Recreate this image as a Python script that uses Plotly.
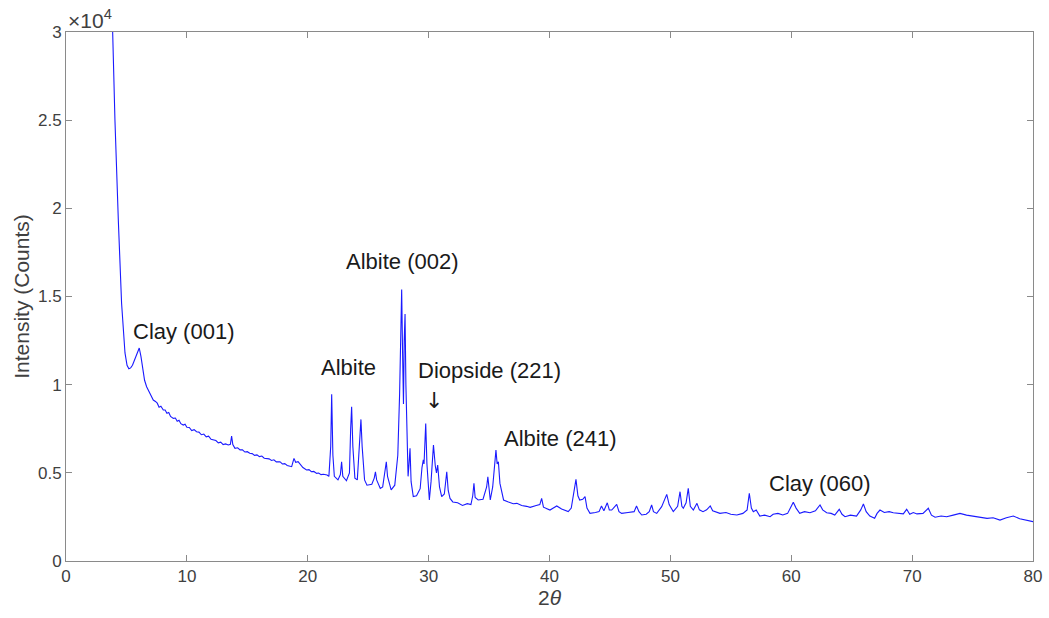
import plotly.graph_objects as go

# X-ray diffraction pattern: diffraction angle (degrees 2-theta) and intensity (counts)
two_theta = [
    3.86, 4.05, 4.33, 4.6, 4.88, 5.05, 5.2, 5.35, 5.5, 5.7, 5.9, 6.06, 6.2, 6.35, 6.5, 6.67, 6.85,
    7.0, 7.22, 7.4, 7.55, 7.7, 7.85, 8.05, 8.2, 8.35, 8.5, 8.65, 8.88, 9.05, 9.2, 9.35, 9.5, 9.7,
    9.85, 10.0, 10.2, 10.4, 10.6, 10.8, 11.0, 11.2, 11.4, 11.6, 11.8, 12.0, 12.19, 12.4, 12.6, 12.8,
    13.0, 13.2, 13.43, 13.6, 13.7, 13.8, 13.98, 14.2, 14.4, 14.6, 14.8, 15.0, 15.2, 15.4, 15.6, 15.8,
    16.0, 16.2, 16.4, 16.6, 16.8, 17.0, 17.2, 17.4, 17.7, 17.9, 18.1, 18.3, 18.5, 18.67, 18.86, 19.0,
    19.2, 19.4, 19.6, 19.9, 20.1, 20.3, 20.5, 20.74, 20.9, 21.1, 21.3, 21.6,
    21.75, 21.9, 21.98, 22.08, 22.2, 22.5, 22.7, 22.8, 22.9, 23.2, 23.45, 23.55, 23.63, 23.73, 23.9,
    24.1, 24.28, 24.4, 24.5, 24.7, 24.9, 25.3, 25.5, 25.6, 25.7, 26.0, 26.2, 26.35, 26.5, 26.6, 26.9,
    27.2, 27.45, 27.6, 27.7, 27.77, 27.84, 27.92, 27.98, 28.05, 28.12, 28.2, 28.3, 28.38, 28.46, 28.55,
    28.73, 29.0, 29.3, 29.45, 29.56, 29.62, 29.76, 29.86, 30.06, 30.2, 30.4, 30.55, 30.65, 30.75, 30.9,
    31.08, 31.3, 31.5, 31.62, 31.77, 32.0, 32.4, 32.8, 33.2, 33.5, 33.65, 33.75, 33.85, 34.1, 34.5,
    34.8, 34.9, 35.0, 35.1, 35.3, 35.5, 35.57, 35.67, 35.77, 35.9, 36.2, 36.6, 37.0, 37.3, 37.7, 38.1,
    38.4, 38.9, 39.2, 39.35, 39.5, 40.04, 40.3, 40.6, 41.0, 41.55, 41.8, 42.0, 42.19, 42.35, 42.5,
    42.75, 42.94, 43.1, 43.35, 43.8, 44.1, 44.3, 44.5, 44.78, 44.95, 45.15, 45.56, 45.75, 45.97, 46.5,
    47.0, 47.2, 47.4, 47.63, 48.0, 48.25, 48.45, 48.6, 48.87, 49.28, 49.5, 49.7, 49.9, 50.24, 50.6,
    50.8, 50.95, 51.07, 51.3, 51.48, 51.65, 51.9, 52.2, 52.4, 52.7, 53.0, 53.3, 53.5, 54.1, 54.6,
    55.0, 55.5, 56.0, 56.35, 56.53, 56.7, 56.86, 57.1, 57.4, 57.8, 58.25, 58.5, 58.9, 59.3, 59.7,
    59.95, 60.17, 60.4, 60.7, 61.1, 61.55, 62.0, 62.38, 62.6, 62.93, 63.3, 63.6, 63.97, 64.2, 64.45,
    64.9, 65.4, 65.75, 65.97, 66.2, 66.5, 66.9, 67.1, 67.34, 67.7, 68.1, 68.44, 68.8, 69.27, 69.55,
    69.8, 70.1, 70.4, 70.9, 71.34, 71.6, 71.9, 72.4, 72.86, 73.4, 73.96, 74.5, 75.06, 75.6, 76.2,
    76.7, 77.27, 77.8, 78.37, 78.9, 79.5, 80.0,
]
counts = [
    30000, 25000, 19300, 14600, 11800, 11100, 10900, 10950, 11100, 11450, 11850, 12080, 11600, 10800, 10250, 9880, 9600,
    9400, 9130, 9050, 8950, 8720, 8780, 8560, 8560, 8380, 8420, 8200, 8090, 8110, 7920, 7980, 7790, 7710,
    7760, 7580, 7570, 7400, 7450, 7330, 7310, 7160, 7200, 7040, 7080, 6900, 6860, 6830, 6700, 6740,
    6600, 6640, 6580, 6620, 7090, 6600, 6390, 6420, 6300, 6310, 6180, 6200, 6110, 6090, 5990, 6020,
    5920, 5950, 5830, 5820, 5790, 5700, 5740, 5620, 5630, 5500, 5520, 5420, 5380, 5350, 5820, 5600,
    5630, 5450, 5300, 5160, 5180, 5060, 5080, 4970, 4990, 4900, 4920, 4880,
    4800, 6500, 9450, 6000, 4800, 4600, 4900, 5630, 4800, 4550, 5000, 7500, 8750, 6500, 4700,
    4600, 6500, 8030, 6500, 4600, 4300, 4350, 4700, 5060, 4600, 4120, 4200, 4900, 5630, 4800, 4030,
    4300, 6000, 9500, 13000, 15400, 12000, 8900, 12500, 14000, 10000, 6500, 4800, 5500, 6390, 4500,
    3650, 3700, 4100, 5300, 5730, 5500, 7800, 5500, 3460, 4500, 6580, 5400, 5000, 5440, 4200,
    3650, 3800, 5060, 4000, 3550, 3350, 3300, 3150, 3250, 3200, 3700, 4400, 3600, 3460, 3500,
    4200, 4780, 3900, 3460, 4200, 6000, 6290, 5500, 5630, 4400, 3460, 3350, 3250, 3270, 3150, 3100,
    3040, 3150, 3200, 3550, 3050, 2890, 3000, 3120, 2950, 2800, 3000, 3800, 4630, 3700, 3460,
    3500, 3650, 3000, 2700, 2750, 2800, 3120, 2850, 3300, 2900, 2890, 3210, 2800, 2700, 2750,
    2800, 3120, 2800, 2610, 2650, 2800, 3175, 2800, 2700, 3080, 3400, 3780, 3200, 2800, 3100,
    3930, 3100, 2990, 3300, 4120, 3100, 2890, 3270, 2900, 2800, 2900, 3120, 2850, 2700, 2750,
    2650, 2610, 2700, 2900, 3840, 3000, 2800, 2890, 2550, 2600, 2510, 2650, 2700, 2610, 2700,
    3050, 3330, 3000, 2700, 2800, 2740, 2850, 3175, 2900, 2740, 2700, 2610, 2930, 2650, 2510,
    2600, 2550, 2900, 3230, 2800, 2550, 2420, 2700, 2890, 2750, 2800, 2740, 2700, 2670, 2930,
    2650, 2750, 2670, 2700, 2990, 2600, 2480, 2550, 2510, 2600, 2700, 2600, 2550, 2500, 2420,
    2450, 2320, 2450, 2550, 2400, 2320, 2230,
]

# Axis ticks (intensity shown in units of 10^4 counts)
x_ticks = [0, 10, 20, 30, 40, 50, 60, 70, 80]
y_ticks = [0, 5000, 10000, 15000, 20000, 25000, 30000]
y_tick_text = ["0", "0.5", "1", "1.5", "2", "2.5", "3"]

# Phase labels placed next to their reflections
label_text = ["Clay (001)", "Albite (002)", "Albite", "Diopside (221)", "Albite (241)", "Clay (060)"]
label_x = [9.68, 27.8, 23.33, 35.0, 40.95, 62.3]
label_y = [13040, 17010, 11000, 10830, 6970, 4370]

# Arrow marking the diopside reflection
arrow_x = 30.45
arrow_y = 9130

FONT = "Liberation Sans, Arial, Helvetica, sans-serif"
AXIS_COLOR = "#8a8a8a"
TEXT_COLOR = "#404040"

fig = go.Figure()
fig.add_trace(go.Scatter(
    x=two_theta, y=counts, mode="lines",
    line=dict(color="#1a1aff", width=1.1),
    showlegend=False, hoverinfo="skip",
))

for t, lx, ly in zip(label_text, label_x, label_y):
    fig.add_annotation(
        x=lx, y=ly, text=t, showarrow=False,
        font=dict(family=FONT, size=22, color="#1a1a1a"),
        xanchor="center", yanchor="middle",
    )

fig.add_annotation(
    x=arrow_x, y=arrow_y, text="\u2193", showarrow=False,
    font=dict(family="DejaVu Sans, sans-serif", size=22, color="#1a1a1a"),
    xanchor="center", yanchor="middle",
)

fig.add_annotation(
    xref="paper", yref="paper", x=0, y=1.0, yshift=-2,
    text="\u00d710<sup>4</sup>", showarrow=False,
    xanchor="left", yanchor="bottom",
    font=dict(family=FONT, size=21, color=TEXT_COLOR),
)

axis_common = dict(
    showline=True, linecolor=AXIS_COLOR, linewidth=1, mirror="ticks",
    ticks="inside", ticklen=6, tickcolor=AXIS_COLOR, tickwidth=1,
    showgrid=False, zeroline=False,
    tickfont=dict(family=FONT, size=17, color=TEXT_COLOR),
)

fig.update_layout(
    width=1049, height=618,
    margin=dict(l=66, r=16, t=32, b=57),
    paper_bgcolor="white", plot_bgcolor="white",
    xaxis=dict(
        range=[0, 80], tickvals=x_ticks, automargin=False,
        title=dict(text="2<i>\u03b8</i>", font=dict(family=FONT, size=21, color=TEXT_COLOR), standoff=4),
        **axis_common,
    ),
    yaxis=dict(
        range=[0, 30000], tickvals=y_ticks, ticktext=y_tick_text, automargin=False,
        title=dict(text="Intensity (Counts)", font=dict(family=FONT, size=21, color=TEXT_COLOR), standoff=2),
        **axis_common,
    ),
)

fig.write_html("out.html")
